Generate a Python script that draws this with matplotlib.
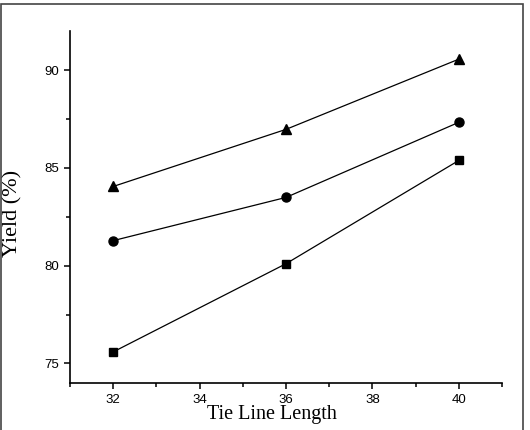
import matplotlib.pyplot as plt
from matplotlib.patches import Rectangle
from matplotlib.ticker import MultipleLocator

# Data
tie_line = [32, 36, 40]
yield_tri = [84.05, 86.97, 90.56]
yield_circ = [81.28, 83.49, 87.33]
yield_sq = [75.59, 80.10, 85.38]

fig = plt.figure(figsize=(5.3, 4.3), dpi=100)
ax = fig.add_axes([70 / 530, 47 / 430, 432 / 530, 352 / 430])

ax.plot(tie_line, yield_tri, color='black', lw=0.9, marker='^', ms=7.5)
ax.plot(tie_line, yield_circ, color='black', lw=0.9, marker='o', ms=6.5)
ax.plot(tie_line, yield_sq, color='black', lw=0.9, marker='s', ms=5.5)

ax.set_xlim(31, 41)
ax.set_ylim(74, 92)
ax.xaxis.set_major_locator(MultipleLocator(2))
ax.xaxis.set_minor_locator(MultipleLocator(1))
ax.yaxis.set_major_locator(MultipleLocator(5))
ax.yaxis.set_minor_locator(MultipleLocator(2.5))

ax.spines['top'].set_visible(False)
ax.spines['right'].set_visible(False)
for s in ['left', 'bottom']:
    ax.spines[s].set_linewidth(1.2)
ax.tick_params(which='major', direction='out', length=4.5, width=1.1,
               labelsize=9.5, labelfontfamily='Liberation Sans')
ax.tick_params(which='minor', direction='out', length=3, width=1.1)

fig.text(272 / 530, 1 - 415 / 430, 'Tie Line Length', ha='center', va='center',
         fontsize=14.5, family='Liberation Serif')
fig.text(13 / 530, 1 - 213 / 430, 'Yield (%)', ha='center', va='center',
         rotation=90, fontsize=16, family='Liberation Serif')

# figure frame
fig.patches.append(Rectangle((1 / 530, -0.01), 522 / 530, 1 - 4 / 430 + 0.01,
                             transform=fig.transFigure, fill=False,
                             edgecolor='#444444', lw=1.2))

fig.savefig('out.png', dpi=100)
